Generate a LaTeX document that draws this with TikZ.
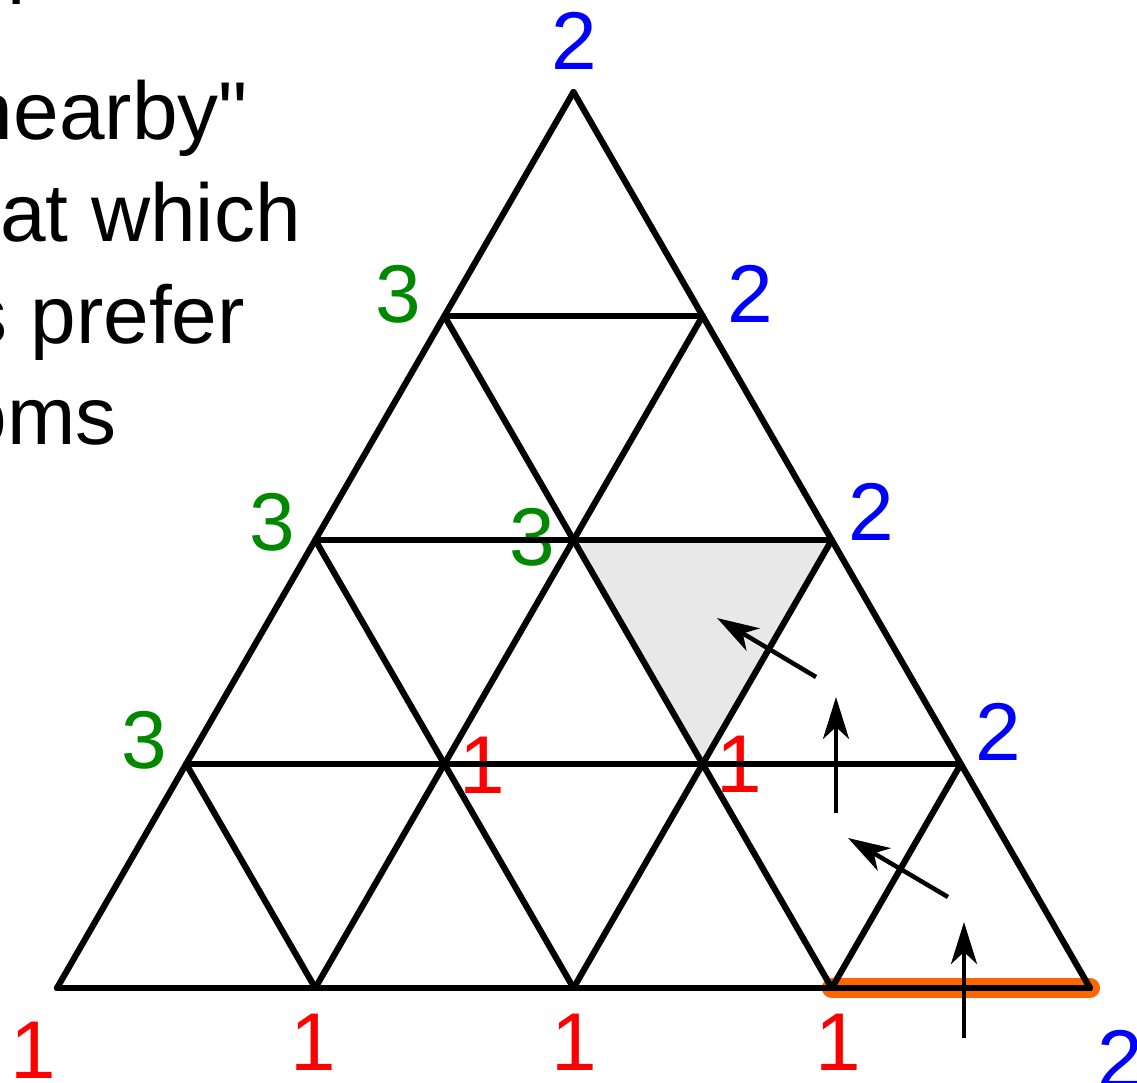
\documentclass[tikz,border=0pt]{standalone}
\usepackage{fontspec}
\setmainfont{Liberation Sans}[Ligatures=TeXOff]
\usetikzlibrary{arrows.meta}
\definecolor{lblblue}{RGB}{0,0,255}
\definecolor{lblred}{RGB}{255,0,0}
\definecolor{lblgreen}{RGB}{0,136,0}
\definecolor{edgeorange}{RGB}{255,102,0}
\definecolor{shadegray}{RGB}{232,232,232}
\begin{document}
\begin{tikzpicture}[x=1pt,y=-1pt,
  font=\fontsize{82}{100}\selectfont,
  gridline/.style={line width=6.2pt, line cap=round, line join=miter},
  lbl/.style={inner sep=0pt, outer sep=0pt, anchor=base},
  txt/.style={inner sep=0pt, outer sep=0pt, anchor=base west},
  movearrow/.style={line width=4.5pt, -{Stealth[length=42pt,width=26pt,inset=12pt]}}]
\useasboundingbox (0,0) rectangle (1137,1083);
\clip (0,0) rectangle (1137,1083);
\fill[white] (0,0) rectangle (1137,1083);
% grid vertices
\foreach \j in {0,...,4}{
  \pgfmathtruncatemacro\n{4-\j}
  \foreach \i in {0,...,\n}{
    \coordinate (v\i\j) at ({57+258.25*\i+129.125*\j},{988-224*\j});
  }
}
% cropped text
\node[txt] (t0) at (8,-12) {p,};
\node[txt] (t1) at (-32,140) {nearby"};
\node[txt] (t2) at (0,242) {at which};
\node[txt] (t3) at (-33,343) {s prefer};
\node[txt] (t4) at (-38,444) {oms};
% shaded triangle and highlighted edge
\fill[shadegray] (v12) -- (v22) -- (v21) -- cycle;
\draw[edgeorange, line width=20pt, line cap=round] (v30) -- (v40);
% labels
\node[lbl, text=lblblue] (a1) at (574,70) {2};
\node[lbl, text=lblblue] (a2) at (750,322) {2};
\node[lbl, text=lblblue] (a3) at (871,540) {2};
\node[lbl, text=lblblue] (a4) at (998,760) {2};
\node[lbl, text=lblblue] (a5) at (1120,1087) {2};
\node[lbl, text=lblgreen] (g1) at (398,322) {3};
\node[lbl, text=lblgreen] (g2) at (272,550) {3};
\node[lbl, text=lblgreen] (g3) at (532,565) {3};
\node[lbl, text=lblgreen] (g4) at (144,768) {3};
\node[lbl, text=lblred] (r1) at (482,793) {1};
\node[lbl, text=lblred] (r2) at (739,792) {1};
\node[lbl, text=lblred] (r3) at (33,1078) {1};
\node[lbl, text=lblred] (r4) at (313,1070) {1};
\node[lbl, text=lblred] (r5) at (574,1070) {1};
\node[lbl, text=lblred] (r6) at (838,1070) {1};
% grid lines
\foreach \j in {0,...,3}{
  \pgfmathtruncatemacro\n{4-\j}
  \draw[gridline] (v0\j) -- (v\n\j);
}
\foreach \i in {0,...,3}{
  \pgfmathtruncatemacro\n{4-\i}
  \draw[gridline] (v\i0) -- (v\i\n);
}
\foreach \i in {1,...,4}{
  \draw[gridline] (v\i0) -- (v0\i);
}
% arrows
\coordinate (p1s) at (964,1038);
\coordinate (p1e) at (964,922);
\coordinate (p2s) at (948,897);
\coordinate (p2e) at (848,838);
\coordinate (p3s) at (836,813);
\coordinate (p3e) at (836,697);
\coordinate (p4s) at (816,677);
\coordinate (p4e) at (717,618);
\draw[movearrow] (p1s) -- (p1e);
\draw[movearrow] (p2s) -- (p2e);
\draw[movearrow] (p3s) -- (p3e);
\draw[movearrow] (p4s) -- (p4e);
\end{tikzpicture}
\end{document}
